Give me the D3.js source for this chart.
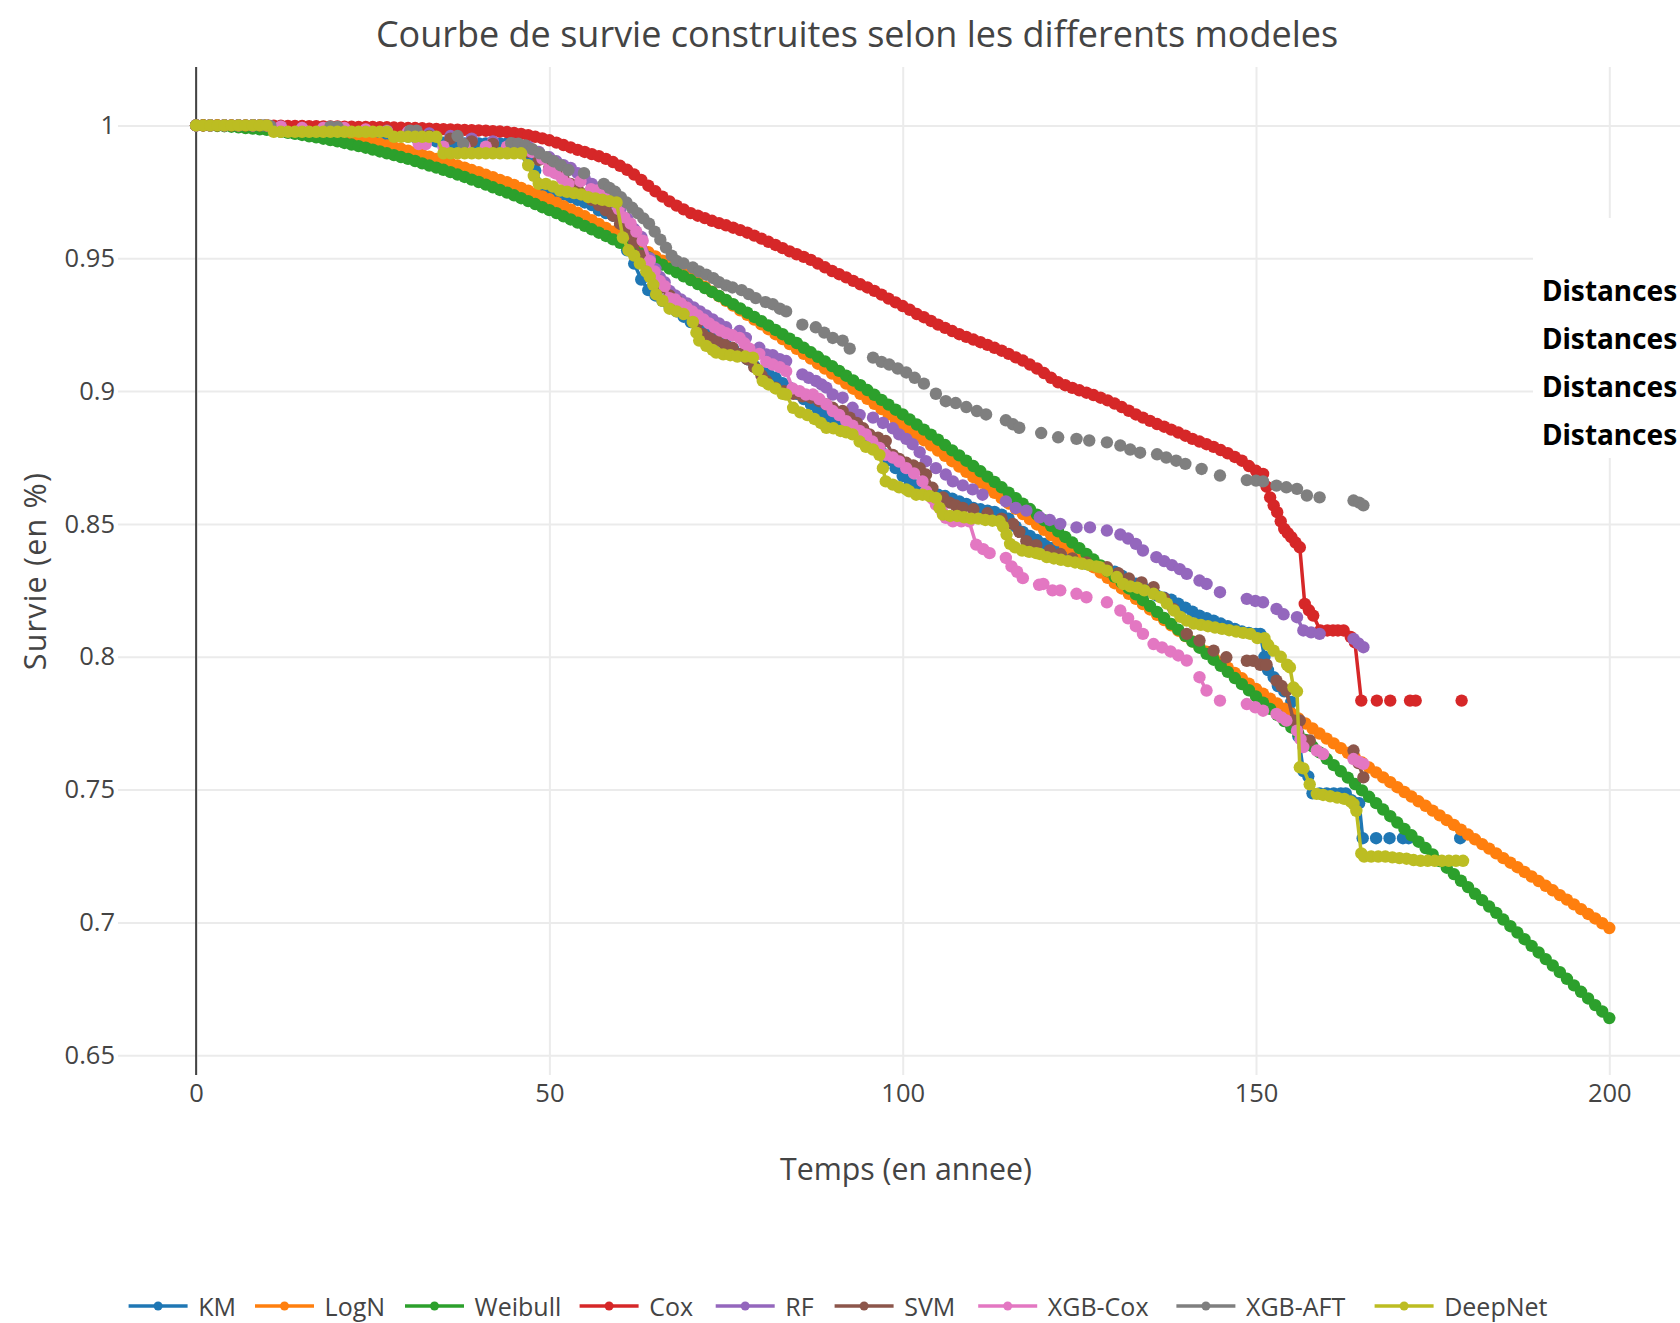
<!DOCTYPE html>
<html>
<head>
<meta charset="utf-8">
<script src="https://cdn.jsdelivr.net/npm/d3@7"></script>
<style>
  html, body { margin: 0; padding: 0; background: #fff; }
  svg { display: block; font-family: "Open Sans", verdana, arial, sans-serif; }
</style>
</head>
<body>
<div id="chart"></div>
<script>
const WIDTH = 1680;
const HEIGHT = 1323;
const PLOT = { LEFT: 118, RIGHT: 1680, TOP: 67, BOTTOM: 1075 };
const MAX_GAP = 1.3;   // points further apart than this (years) are not joined

const TITLE = 'Courbe de survie construites selon les differents modeles';
const X_TITLE = 'Temps (en annee)';
const Y_TITLE = 'Survie (en %)';
const X_TICKS = [0, 50, 100, 150, 200];
const Y_TICKS = [0.65, 0.7, 0.75, 0.8, 0.85, 0.9, 0.95, 1];
const NOTE_LINES = ['Distances', 'Distances', 'Distances', 'Distances'];

const NAMES = ['KM', 'LogN', 'Weibull', 'Cox', 'RF', 'SVM', 'XGB-Cox', 'XGB-AFT', 'DeepNet'];
const COLORS = ['#1f77b4', '#ff7f0e', '#2ca02c', '#d62728', '#9467bd', '#8c564b', '#e377c2', '#7f7f7f', '#bcbd22'];
const LEGEND_X = [128.6, 255, 405, 579.6, 715.7, 834.6, 978.2, 1176.4, 1374.6];

// yearly values, index = year (0..200)
const lognSurv = [
  1.0000,1.0000,1.0000,1.0000,0.9999,0.9999,0.9998,0.9997,0.9996,0.9995,
  0.9994,0.9992,0.9989,0.9987,0.9984,0.9982,0.9978,0.9974,0.9971,0.9967,
  0.9963,0.9958,0.9953,0.9948,0.9943,0.9938,0.9931,0.9925,0.9918,0.9912,
  0.9905,0.9897,0.9889,0.9882,0.9874,0.9866,0.9858,0.9849,0.9841,0.9832,
  0.9824,0.9814,0.9805,0.9795,0.9786,0.9776,0.9765,0.9754,0.9744,0.9733,
  0.9722,0.9709,0.9696,0.9684,0.9671,0.9658,0.9643,0.9629,0.9614,0.9600,
  0.9585,0.9569,0.9554,0.9538,0.9523,0.9507,0.9491,0.9475,0.9458,0.9442,
  0.9426,0.9409,0.9392,0.9374,0.9357,0.9340,0.9322,0.9304,0.9287,0.9269,
  0.9251,0.9233,0.9214,0.9196,0.9177,0.9159,0.9140,0.9122,0.9103,0.9085,
  0.9066,0.9047,0.9028,0.9009,0.8990,0.8971,0.8952,0.8932,0.8913,0.8893,
  0.8874,0.8854,0.8835,0.8815,0.8796,0.8776,0.8756,0.8736,0.8716,0.8696,
  0.8676,0.8656,0.8636,0.8617,0.8597,0.8577,0.8557,0.8537,0.8518,0.8498,
  0.8478,0.8458,0.8438,0.8417,0.8397,0.8377,0.8357,0.8337,0.8317,0.8297,
  0.8277,0.8257,0.8237,0.8218,0.8198,0.8178,0.8158,0.8138,0.8118,0.8098,
  0.8078,0.8058,0.8038,0.8019,0.7999,0.7979,0.7959,0.7939,0.7919,0.7899,
  0.7879,0.7861,0.7842,0.7824,0.7805,0.7787,0.7768,0.7749,0.7730,0.7711,
  0.7692,0.7674,0.7656,0.7638,0.7620,0.7602,0.7583,0.7565,0.7546,0.7528,
  0.7509,0.7491,0.7474,0.7456,0.7439,0.7421,0.7403,0.7385,0.7367,0.7349,
  0.7331,0.7313,0.7295,0.7278,0.7260,0.7242,0.7225,0.7208,0.7190,0.7173,
  0.7156,0.7138,0.7121,0.7103,0.7086,0.7068,0.7050,0.7032,0.7015,0.6997,
  0.6979
];

const weibullSurv = [
  1.0000,1.0000,0.9999,0.9998,0.9997,0.9995,0.9993,0.9990,0.9988,0.9985,
  0.9983,0.9979,0.9976,0.9972,0.9968,0.9964,0.9959,0.9955,0.9950,0.9945,
  0.9940,0.9934,0.9928,0.9922,0.9916,0.9909,0.9902,0.9895,0.9888,0.9881,
  0.9874,0.9866,0.9857,0.9849,0.9841,0.9833,0.9824,0.9815,0.9806,0.9796,
  0.9787,0.9777,0.9767,0.9757,0.9747,0.9737,0.9726,0.9715,0.9704,0.9692,
  0.9681,0.9670,0.9658,0.9646,0.9634,0.9622,0.9609,0.9596,0.9584,0.9571,
  0.9558,0.9545,0.9531,0.9517,0.9504,0.9490,0.9476,0.9461,0.9447,0.9432,
  0.9418,0.9403,0.9388,0.9373,0.9358,0.9343,0.9327,0.9311,0.9295,0.9279,
  0.9263,0.9247,0.9230,0.9214,0.9197,0.9181,0.9163,0.9146,0.9129,0.9112,
  0.9094,0.9076,0.9058,0.9040,0.9022,0.9004,0.8986,0.8967,0.8949,0.8930,
  0.8912,0.8893,0.8874,0.8855,0.8836,0.8817,0.8797,0.8777,0.8758,0.8738,
  0.8718,0.8698,0.8678,0.8658,0.8638,0.8618,0.8597,0.8576,0.8556,0.8535,
  0.8514,0.8493,0.8472,0.8451,0.8430,0.8409,0.8387,0.8366,0.8344,0.8322,
  0.8301,0.8279,0.8257,0.8235,0.8213,0.8191,0.8169,0.8146,0.8124,0.8102,
  0.8079,0.8057,0.8034,0.8011,0.7989,0.7966,0.7943,0.7920,0.7897,0.7874,
  0.7851,0.7827,0.7804,0.7781,0.7758,0.7734,0.7711,0.7687,0.7663,0.7640,
  0.7616,0.7592,0.7569,0.7545,0.7521,0.7497,0.7473,0.7449,0.7425,0.7400,
  0.7376,0.7352,0.7328,0.7304,0.7280,0.7256,0.7231,0.7206,0.7182,0.7157,
  0.7133,0.7108,0.7084,0.7060,0.7036,0.7011,0.6986,0.6962,0.6937,0.6912,
  0.6887,0.6862,0.6838,0.6813,0.6788,0.6763,0.6739,0.6714,0.6689,0.6665,
  0.6640
];

// [time, survival]
const km = [[0,1],[1,1],[2,1],[3,1],[4,1],[5,1],[6,1],[7,1],[8,1],[9,1],[10,1],
  [11,0.9985],[12,0.9982],[13,0.998],[14,0.998],[15,0.998],[16,0.9978],[17,0.9976],[18,0.9975],[19,0.9975],
  [20,0.9973],[21,0.997],[22,0.997],[23,0.9968],[24,0.9966],[25,0.9965],[26,0.9963],[27,0.996],[28,0.996],[29,0.996],
  [30,0.9958],[31,0.9955],[32,0.9952],[33,0.995],[34,0.994],[35,0.9935],[36,0.9932],[37,0.9932],[38,0.9932],[39,0.9932],
  [40,0.9932],[41,0.9932],[42,0.9932],[43,0.9932],[44,0.9932],[45,0.9932],[46,0.991],[47,0.988],[48,0.983],[49,0.977],
  [50,0.975],[51,0.9745],[52,0.974],[53,0.973],[54,0.972],[55,0.971],[56,0.970],[57,0.968],[58,0.967],[59,0.966],
  [60,0.962],[61,0.953],[62,0.948],[63,0.942],[64,0.938],[65,0.936],[66,0.934],[67,0.932],[68,0.930],[69,0.928],
  [70,0.926],[71,0.924],[72,0.922],[73,0.9205],[74,0.919],[75,0.9175],[76,0.916],[77,0.914],[78,0.912],[79,0.9095],
  [80,0.9075],[81,0.9065],[82,0.905],[83,0.903],[84,0.9013],[85,0.899],[86,0.897],[87,0.895],[88,0.893],[89,0.891],
  [90,0.8887],[91,0.8875],[92,0.886],[93,0.884],[94,0.882],[95,0.8805],[96,0.879],[97,0.877],[98,0.874],[99,0.871],
  [100,0.868],[101,0.866],[102,0.8645],[103,0.863],[104,0.862],[105,0.861],[106,0.8605],[107,0.8595],[108,0.8585],[109,0.8575],
  [110,0.856],[111,0.8555],[112,0.855],[113,0.8545],[114,0.8535],[115,0.852],[116,0.849],[117,0.847],[118,0.8455],[119,0.844],
  [120,0.8425],[121,0.841],[122,0.8395],[123,0.838],[124,0.837],[125,0.836],[126,0.835],[127,0.834],[128,0.833],[129,0.8325],
  [130,0.832],[131,0.8305],[132,0.829],[133,0.8275],[134,0.826],[135,0.8245],[136,0.823],[137,0.8222],[138,0.8215],[139,0.820],
  [140,0.8185],[141,0.817],[142,0.8155],[143,0.8145],[144,0.8136],[145,0.8125],[146,0.8115],[147,0.8105],[148,0.8095],[149,0.809],
  [150,0.8086],[150.6,0.8086],[151.2,0.800],[151.7,0.795],[152.5,0.7923],[153.1,0.789],[154,0.787],[155,0.783],[155.6,0.777],[156,0.770],
  [156.7,0.757],[157.4,0.755],[158,0.7486],[159,0.7486],[160,0.7486],[161,0.7486],[162,0.7486],[162.7,0.7486],[163.5,0.746],[164.1,0.7449],
  [164.6,0.7449],[165.1,0.7317],[167,0.7317],[168.9,0.7317],[170.8,0.7317],[171.6,0.7317],[178.9,0.7317]];

const cox = [[0,1],[1,1],[2,1],[3,1],[4,1],[5,1],[6,1],[7,1],[8,1],[9,1],[10,1],
  [11,0.9999],[12,0.9999],[13,0.9998],[14,0.9998],[15,0.9998],[16,0.9997],[17,0.9997],[18,0.9996],[19,0.9996],
  [20,0.9996],[21,0.9995],[22,0.9995],[23,0.9994],[24,0.9994],[25,0.9994],[26,0.9993],[27,0.9993],[28,0.9992],[29,0.9991],
  [30,0.9990],[31,0.9990],[32,0.9989],[33,0.9988],[34,0.9987],[35,0.9986],[36,0.9985],[37,0.9984],[38,0.9983],[39,0.9982],
  [40,0.9981],[41,0.9980],[42,0.9978],[43,0.9977],[44,0.9975],[45,0.9972],[46,0.9968],[47,0.9963],[48,0.9957],[49,0.9951],
  [50,0.9944],[51,0.9935],[52,0.9926],[53,0.9917],[54,0.9908],[55,0.9900],[56,0.9892],[57,0.9884],[58,0.9874],[59,0.9862],
  [60,0.9848],[61,0.9833],[62,0.9815],[63,0.9795],[64,0.9773],[65,0.9752],[66,0.9732],[67,0.9714],[68,0.9698],[69,0.9684],
  [70,0.9670],[71,0.9660],[72,0.9651],[73,0.9641],[74,0.9632],[75,0.9624],[76,0.9615],[77,0.9606],[78,0.9596],[79,0.9585],
  [80,0.9574],[81,0.9562],[82,0.9550],[83,0.9538],[84,0.9526],[85,0.9515],[86,0.9505],[87,0.9494],[88,0.9480],[89,0.9466],
  [90,0.9452],[91,0.9440],[92,0.9428],[93,0.9415],[94,0.9402],[95,0.9390],[96,0.9377],[97,0.9363],[98,0.9348],[99,0.9334],
  [100,0.9320],[101,0.9306],[102,0.9290],[103,0.9278],[104,0.9264],[105,0.9250],[106,0.9238],[107,0.9226],[108,0.9214],[109,0.9204],
  [110,0.9194],[111,0.9184],[112,0.9174],[113,0.9163],[114,0.9152],[115,0.9140],[116,0.9127],[117,0.9115],[118,0.9100],[119,0.9085],
  [120,0.9068],[121,0.9050],[122,0.9033],[123,0.9022],[124,0.9012],[125,0.9003],[126,0.8994],[127,0.8985],[128,0.8975],[129,0.8965],
  [130,0.8953],[131,0.8940],[132,0.8926],[133,0.8912],[134,0.8900],[135,0.8888],[136,0.8876],[137,0.8866],[138,0.8855],[139,0.8844],
  [140,0.8832],[141,0.8820],[142,0.8810],[143,0.8800],[144,0.8790],[145,0.8778],[146,0.8766],[147,0.8752],[148,0.8738],[149,0.8718],
  [150,0.8700],[151,0.8688],[151.5,0.8640],[152,0.8600],[152.5,0.8570],[153,0.8544],[153.5,0.8510],[154,0.8481],[154.5,0.8465],[155,0.8450],
  [155.6,0.8430],[156.2,0.8412],[156.9,0.8199],[157.5,0.8175],[158.1,0.8155],[159.1,0.8099],[160.1,0.8099],[160.9,0.8099],[161.6,0.8099],[162.4,0.8099],
  [163.4,0.8075],[164,0.8054],[164.9,0.7835],[167.1,0.7835],[169,0.7835],[171.8,0.7835],[172.6,0.7835],[179.1,0.7835]];

const rf = [[0,1],[2,1],[4,1],[6,1],[8,1],[10,1],[12,0.9995],[15,0.999],[18,0.999],[21,0.9985],[24,0.998],[27,0.998],
  [30,0.9975],[33,0.997],[36,0.996],[39,0.995],[42,0.994],[45,0.993],[47,0.992],[48.5,0.990],[50,0.988],[51,0.9865],
  [52,0.985],[53,0.984],[54,0.982],[55,0.980],[56,0.978],[57,0.976],[58,0.974],[59,0.971],[60,0.968],[61,0.965],
  [62,0.961],[63,0.958],[64.2,0.950],[65,0.946],[65.6,0.943],[66.3,0.941],[67,0.9377],[67.8,0.936],[68.6,0.9345],[69.5,0.933],
  [70.4,0.9315],[71.3,0.930],[72.2,0.9285],[73.1,0.927],[74,0.9255],[75,0.924],[76.9,0.9226],[77.8,0.920],[79.7,0.9163],[80.7,0.9138],
  [81.6,0.9135],[82.6,0.912],[83.5,0.9113],[85.8,0.9063],[86.7,0.905],[87.7,0.9038],[88.5,0.9025],[89.2,0.9013],[90.1,0.8987],[91.5,0.8975],
  [92.9,0.8937],[93.9,0.8910],[95.8,0.8900],[97.2,0.888],[98.6,0.886],[99.5,0.8837],[100.5,0.882],[101.4,0.880],[102.4,0.877],[103.3,0.8736],
  [104.7,0.871],[106.1,0.8686],[107.1,0.866],[108.5,0.8645],[109.9,0.863],[111.3,0.861],[114.6,0.8585],[116,0.856],[117.5,0.855],[119.4,0.8525],
  [120.8,0.8515],[122.3,0.850],[124.6,0.8487],[126.5,0.8487],[128.9,0.8475],[130.8,0.846],[131.9,0.8445],[133,0.8425],[134,0.840],[135.9,0.8375],
  [137,0.836],[138.1,0.8345],[139.2,0.833],[140.2,0.8312],[142,0.8287],[143,0.8274],[144.9,0.8243],[148.7,0.8218],[149.9,0.821],[151,0.8205],
  [152.9,0.818],[153.9,0.816],[155.8,0.8149],[156.7,0.8099],[157.8,0.8092],[159,0.8086],[163.8,0.8067],[164.5,0.805],[165.2,0.8036]];

const svm = [[0,1],[2,1],[4,1],[6,1],[8,1],[10,1],[12,0.9995],[15,0.999],[18,0.999],[21,0.9988],[24,0.998],[27,0.998],
  [30,0.9975],[33,0.996],[36,0.995],[39,0.994],[42,0.993],[45,0.992],[47,0.990],[48.5,0.987],[50,0.984],[51,0.982],
  [52,0.980],[53,0.978],[54,0.976],[55,0.974],[56,0.972],[57,0.970],[58,0.968],[59,0.966],[60,0.963],[61,0.960],
  [62,0.956],[63,0.951],[64,0.946],[65,0.942],[66,0.939],[67,0.936],[68,0.934],[69,0.932],[70,0.929],[71,0.926],
  [71.7,0.9214],[72.7,0.920],[73.7,0.919],[74.8,0.9175],[75.9,0.9163],[77,0.914],[78,0.912],[79,0.909],[80,0.906],[80.7,0.9038],
  [82,0.9013],[83.2,0.900],[84.5,0.899],[85.8,0.898],[87,0.8975],[88.2,0.8962],[89.2,0.895],[90.1,0.8937],[91.5,0.8925],[92.5,0.890],
  [93.5,0.888],[94.4,0.886],[95.3,0.8837],[96.5,0.8825],[97.6,0.8812],[98.6,0.876],[99.5,0.8745],[100.5,0.873],[101.5,0.872],[102.4,0.871],
  [103.3,0.8686],[104.2,0.8636],[105.7,0.860],[106.6,0.858],[107.5,0.857],[108.5,0.856],[110,0.8555],[112,0.854],[114,0.852],[115.6,0.850],
  [116.5,0.847],[117.5,0.8435],[118.9,0.842],[120.8,0.840],[122.3,0.8387],[124,0.837],[126,0.8355],[128.9,0.8337],[130.5,0.8315],[132,0.8295],
  [133.8,0.828],[135.5,0.8262],[137,0.822],[138.3,0.818],[140.2,0.8086],[142,0.8061],[144,0.8023],[145.8,0.7998],[148.7,0.7985],[149.6,0.7985],
  [150.6,0.797],[151.5,0.797],[152.9,0.791],[153.6,0.789],[154.3,0.7873],[155.3,0.776],[156.2,0.776],[156.7,0.7685],[157.6,0.7685],[163.8,0.7647],
  [164.5,0.760],[165.2,0.7546]];

const xgbCox = [[0,1],[2,1],[4,1],[6,1],[8,1],[10,1],[12,0.9995],[15,0.999],[18,0.999],[21,0.999],[24,0.9985],[27,0.9978],
  [30,0.9975],[31.5,0.993],[32.5,0.993],[35,0.992],[38,0.992],[41,0.992],[44,0.992],[46,0.9915],[47.5,0.990],[49,0.9875],
  [49.9,0.983],[50.8,0.982],[51.8,0.980],[52.7,0.978],[54.4,0.979],[55.9,0.976],[56.8,0.9755],[57.7,0.9745],[58.8,0.9716],[59.8,0.9685],
  [60.6,0.9654],[61.5,0.963],[62.3,0.960],[63.2,0.9566],[64.2,0.949],[64.9,0.945],[65.6,0.9415],[66.3,0.9395],[67,0.935],[67.8,0.9345],
  [68.6,0.933],[69.4,0.9315],[70.2,0.930],[71,0.9285],[71.8,0.927],[72.6,0.9255],[73.4,0.924],[74.2,0.9228],[75,0.9218],[75.9,0.921],
  [76.9,0.920],[77.6,0.918],[78.3,0.916],[79.7,0.914],[80.7,0.911],[81.6,0.910],[82.6,0.909],[83.5,0.9075],[84.4,0.901],[85.4,0.900],
  [86.3,0.8987],[87.3,0.8987],[88.2,0.897],[89.2,0.895],[90.1,0.8925],[91,0.891],[92,0.8887],[92.9,0.887],[93.9,0.885],[94.8,0.8837],
  [95.7,0.881],[96.7,0.8786],[97.6,0.876],[98.6,0.875],[99.5,0.8735],[100.5,0.871],[101.6,0.869],[102.8,0.866],[103.3,0.8623],[104.2,0.8595],
  [104.7,0.8573],[105.6,0.8545],[106.1,0.8523],[107.1,0.851],[108.3,0.851],[109.4,0.851],[110.4,0.8422],[111.4,0.8405],[112.3,0.839],[114.6,0.8372],
  [115.4,0.834],[116.2,0.832],[117,0.8296],[119.3,0.8271],[119.9,0.8274],[121.2,0.825],[122.3,0.825],[124.6,0.8237],[126,0.8224],[128.9,0.8205],
  [130.8,0.8174],[131.9,0.8145],[133,0.8115],[134,0.8086],[135.5,0.8048],[136.7,0.8035],[137.9,0.802],[139,0.8005],[140.2,0.7986],[142,0.7923],
  [143,0.7873],[144.9,0.7835],[148.7,0.7822],[149.9,0.781],[151,0.7797],[152.9,0.7785],[153.6,0.7772],[154.3,0.776],[155.8,0.7722],[156.3,0.769],
  [156.7,0.766],[158.6,0.7647],[159.5,0.7634],[163.8,0.7615],[164.5,0.7605],[165.2,0.7597]];

const xgbAft = [[0,1],[2,1],[4,1],[6,1],[8,1],[9.5,1],[10.5,0.9998],[19,0.9995],[20,0.9994],[30.3,0.998],[31.2,0.998],[37,0.996],
  [37.8,0.993],[44.6,0.9933],[45.6,0.9931],[46.6,0.9925],[47.6,0.991],[48.6,0.9895],[49.6,0.988],[50.6,0.9865],[51.6,0.985],[52.7,0.9832],
  [54.9,0.982],[57.7,0.978],[58.5,0.9765],[59.3,0.975],[60.1,0.973],[60.9,0.971],[61.7,0.969],[62.5,0.967],[63.3,0.965],[64.1,0.963],
  [64.9,0.960],[65.7,0.957],[66.5,0.954],[67.3,0.951],[68,0.949],[69,0.948],[70.3,0.9465],[71.2,0.945],[72.2,0.9438],[73.2,0.9425],
  [74,0.941],[75,0.9398],[75.9,0.939],[77.2,0.938],[78.2,0.9365],[79.2,0.935],[80.6,0.9335],[81.6,0.9327],[82.6,0.931],[83.5,0.930],
  [85.8,0.925],[87.7,0.924],[88.9,0.922],[90.1,0.920],[91.5,0.919],[92.5,0.916],[95.8,0.9126],[97,0.911],[98.1,0.910],[99.3,0.9085],
  [100.5,0.907],[101.7,0.905],[103,0.9028],[104.7,0.899],[106.1,0.8962],[107.5,0.8955],[109,0.894],[110.5,0.8925],[111.8,0.8912],[114.6,0.889],
  [115.6,0.8875],[116.5,0.8862],[119.6,0.8842],[122,0.8826],[124.6,0.882],[126.4,0.8814],[128.9,0.8807],[130.8,0.8795],[132.2,0.878],[133.6,0.8768],
  [136,0.8762],[137.3,0.875],[138.7,0.8738],[140,0.8726],[142.3,0.8707],[144.9,0.8682],[148.7,0.8665],[150,0.8663],[151,0.866],[152.9,0.8644],
  [154.3,0.8638],[155.8,0.8632],[157.2,0.8607],[159,0.86],[163.8,0.8588],[164.6,0.858],[165.2,0.857]];

const deepNet = [[0,1],[1,1],[2,1],[3,1],[4,1],[5,1],[6,1],[7,1],[8,1],[9,1],[10,1],[11,0.9976],[12,0.9976],[13,0.9976],
  [14,0.9976],[15,0.9976],[16,0.9976],[17,0.9976],[18,0.9976],[19,0.9976],[20,0.9976],[21,0.9976],[22,0.9976],[23,0.9976],
  [24,0.9976],[25,0.9976],[26,0.9976],[27,0.9976],[28,0.9957],[29,0.9957],[30,0.9957],[31,0.9957],[32,0.9957],[33,0.9957],[34,0.9957],
  [35,0.9895],[36,0.9895],[37,0.9895],[38,0.9895],[39,0.9895],[40,0.9895],[41,0.9895],[42,0.9895],[43,0.9895],[44,0.9895],[45,0.9895],
  [46,0.9895],[47,0.985],[47.8,0.981],[48.5,0.978],[49.5,0.978],[50.5,0.977],[51.5,0.9755],[52.5,0.975],[53.5,0.9745],[54.5,0.974],
  [55.5,0.973],[56.5,0.9725],[57.5,0.972],[58.5,0.9715],[59.5,0.971],[60.4,0.9578],[61.2,0.953],[62,0.951],[62.8,0.948],[63.7,0.945],
  [64.2,0.943],[64.7,0.940],[65.1,0.9364],[66,0.934],[67,0.931],[68,0.930],[69,0.929],[70.3,0.926],[70.8,0.922],[71.2,0.919],
  [72.2,0.917],[73.1,0.9155],[73.6,0.9145],[74.6,0.9138],[75.6,0.9135],[76.6,0.913],[77.7,0.913],[78.8,0.9126],[79.5,0.908],[80.2,0.9038],
  [81,0.9025],[82,0.901],[83,0.899],[83.5,0.8987],[84.5,0.8937],[85.5,0.892],[86.5,0.891],[87.5,0.8895],[88.4,0.888],[89.2,0.8862],
  [90.2,0.886],[91.2,0.885],[92,0.8845],[92.9,0.8837],[93.9,0.881],[94.8,0.879],[95.8,0.878],[96.7,0.876],[97.2,0.871],[97.6,0.866],
  [98.6,0.8648],[99.5,0.8638],[100.5,0.863],[100.9,0.8623],[101.9,0.861],[102.8,0.861],[103.8,0.8605],[104.7,0.8598],[105.2,0.856],[105.7,0.8535],
  [106.7,0.853],[107.7,0.853],[108.7,0.8525],[109.7,0.852],[110.7,0.852],[111.7,0.8515],[112.7,0.8512],[113.7,0.851],[114.2,0.849],[114.7,0.846],
  [115.2,0.8425],[115.9,0.8412],[116.9,0.840],[117.9,0.8395],[118.9,0.839],[119.4,0.8387],[120.4,0.8375],[121.4,0.837],[122.4,0.8365],[123.4,0.836],
  [124.4,0.8355],[125.4,0.835],[126.4,0.8345],[127.4,0.834],[127.9,0.8337],[128.9,0.8324],[130.3,0.830],[131.2,0.8274],[132.2,0.8265],[133.2,0.826],
  [134.2,0.825],[135.5,0.8237],[136.5,0.8224],[137.4,0.820],[138.4,0.8174],[139.3,0.815],[140.2,0.8136],[141.2,0.8125],[142.2,0.812],[143.2,0.8115],
  [144.2,0.811],[145.2,0.8105],[146.2,0.81],[147.2,0.8095],[148.2,0.809],[149.2,0.8086],[150.2,0.807],[151.2,0.807],[151.7,0.8045],[152.5,0.8023],
  [153.5,0.800],[154.4,0.797],[154.8,0.796],[155.3,0.7885],[155.8,0.787],[156.2,0.7584],[156.7,0.758],[157.6,0.752],[158.6,0.7484],[159.5,0.748],
  [160.5,0.7475],[161.5,0.747],[162.5,0.7465],[163.4,0.7455],[163.8,0.7446],[164.2,0.742],[164.9,0.726],[165.3,0.7248],[166.3,0.7248],[167.3,0.7248],
  [168.3,0.7248],[169.3,0.7245],[170.3,0.7242],[171.3,0.724],[172.3,0.7235],[173.3,0.7232],[174.3,0.7232],[175.3,0.7232],[176.3,0.7232],[177.3,0.7232],
  [178.3,0.7232],[179.3,0.7232]];

const SERIES_POINTS = [
  km,
  lognSurv.map((s, t) => [t, s]),
  weibullSurv.map((s, t) => [t, s]),
  cox, rf, svm, xgbCox, xgbAft, deepNet
];

const x = d3.scaleLinear().domain([0, 200]).range([196.1, 1609.3]);
const y = d3.scaleLinear().domain([0.65, 1]).range([1055.3, 125.4]);

const svg = d3.select('#chart')
  .append('svg')
    .attr('width', WIDTH)
    .attr('height', HEIGHT);

// gridlines
svg.append('g')
    .attr('transform', `translate(0, ${PLOT.BOTTOM})`)
    .call(d3.axisBottom(x).tickValues(X_TICKS).tickSize(-(PLOT.BOTTOM - PLOT.TOP)).tickFormat(''))
    .call(g => g.select('.domain').remove())
    .call(g => g.selectAll('line').attr('stroke', '#ebebeb').attr('stroke-width', 2));

svg.append('g')
    .attr('transform', `translate(${PLOT.LEFT}, 0)`)
    .call(d3.axisLeft(y).tickValues(Y_TICKS).tickSize(-(PLOT.RIGHT - PLOT.LEFT)).tickFormat(''))
    .call(g => g.select('.domain').remove())
    .call(g => g.selectAll('line').attr('stroke', '#ebebeb').attr('stroke-width', 2));

// tick labels
svg.append('g')
    .attr('transform', `translate(0, ${PLOT.BOTTOM})`)
    .call(d3.axisBottom(x).tickValues(X_TICKS).tickSize(0).tickPadding(9))
    .call(g => g.select('.domain').remove())
    .call(g => g.selectAll('text')
      .attr('font-family', '"Open Sans", sans-serif')
      .attr('font-size', 25.5)
      .attr('fill', '#444'));

svg.append('g')
    .attr('transform', `translate(${PLOT.LEFT}, 0)`)
    .call(d3.axisLeft(y).tickValues(Y_TICKS).tickSize(0).tickPadding(3).tickFormat(d => String(d)))
    .call(g => g.select('.domain').remove())
    .call(g => g.selectAll('text')
      .attr('font-family', '"Open Sans", sans-serif')
      .attr('font-size', 25.5)
      .attr('fill', '#444'));

// zero line at x = 0
svg.append('line')
    .attr('x1', x(0)).attr('x2', x(0))
    .attr('y1', PLOT.TOP).attr('y2', PLOT.BOTTOM)
    .attr('stroke', '#444')
    .attr('stroke-width', 2);

// split a series where two points are too far apart to be joined
const splitRuns = points => {
    const runs = [];
    let run = [points[0]];
    for (let i = 1; i < points.length; i++) {
        if (points[i][0] - points[i - 1][0] > MAX_GAP) {
            runs.push(run);
            run = [];
        }
        run.push(points[i]);
    }
    runs.push(run);
    return runs.filter(r => r.length > 1);
};

const line = d3.line()
    .x(d => x(d[0]))
    .y(d => y(d[1]));

const traces = svg.selectAll('.trace')
    .data(SERIES_POINTS)
    .enter()
    .append('g')
    .attr('class', 'trace');

traces.each(function (points, i) {
    const g = d3.select(this);
    g.selectAll('path')
     .data(splitRuns(points))
     .enter()
     .append('path')
     .attr('d', line)
     .attr('fill', 'none')
     .attr('stroke', COLORS[i])
     .attr('stroke-width', 3.5)
     .attr('stroke-linejoin', 'round');

    g.selectAll('circle')
     .data(points)
     .enter()
     .append('circle')
     .attr('cx', d => x(d[0]))
     .attr('cy', d => y(d[1]))
     .attr('r', 6.2)
     .attr('fill', COLORS[i]);
});

// titles
svg.append('text')
    .attr('x', 857).attr('y', 33)
    .attr('text-anchor', 'middle')
    .attr('dominant-baseline', 'central')
    .attr('font-size', 36)
    .attr('fill', '#444')
    .text(TITLE);

svg.append('text')
    .attr('x', 906).attr('y', 1168)
    .attr('text-anchor', 'middle')
    .attr('dominant-baseline', 'central')
    .attr('font-size', 30.3)
    .attr('fill', '#444')
    .text(X_TITLE);

svg.append('text')
    .attr('transform', 'translate(34, 571) rotate(-90)')
    .attr('text-anchor', 'middle')
    .attr('dominant-baseline', 'central')
    .attr('font-size', 30.5)
    .attr('letter-spacing', 1.2)
    .attr('fill', '#444')
    .text(Y_TITLE);

// legend
const legend = svg.append('g').attr('transform', 'translate(0, 1306)');
NAMES.forEach((name, i) => {
    const item = legend.append('g').attr('transform', `translate(${LEGEND_X[i]}, 0)`);
    item.append('line')
        .attr('x1', 0).attr('x2', 59)
        .attr('stroke', COLORS[i])
        .attr('stroke-width', 3.5);
    item.append('circle')
        .attr('cx', 29.5)
        .attr('r', 4.5)
        .attr('fill', COLORS[i]);
    item.append('text')
        .attr('x', 69.6)
        .attr('dominant-baseline', 'central')
        .attr('font-size', 25)
        .attr('fill', '#444')
        .text(name);
});

// white note box pasted over the right edge
svg.append('rect')
    .attr('x', 1533).attr('y', 218)
    .attr('width', 147).attr('height', 240)
    .attr('fill', '#fff');

svg.selectAll('.note')
    .data(NOTE_LINES)
    .enter()
    .append('text')
    .attr('class', 'note')
    .attr('x', 1542)
    .attr('y', (d, i) => 290.4 + i * 48)
    .attr('dominant-baseline', 'central')
    .attr('font-family', '"Noto Sans", "Open Sans", sans-serif')
    .attr('font-weight', 'bold')
    .attr('font-size', 28)
    .attr('fill', '#000')
    .text(d => d);
</script>
</body>
</html>
